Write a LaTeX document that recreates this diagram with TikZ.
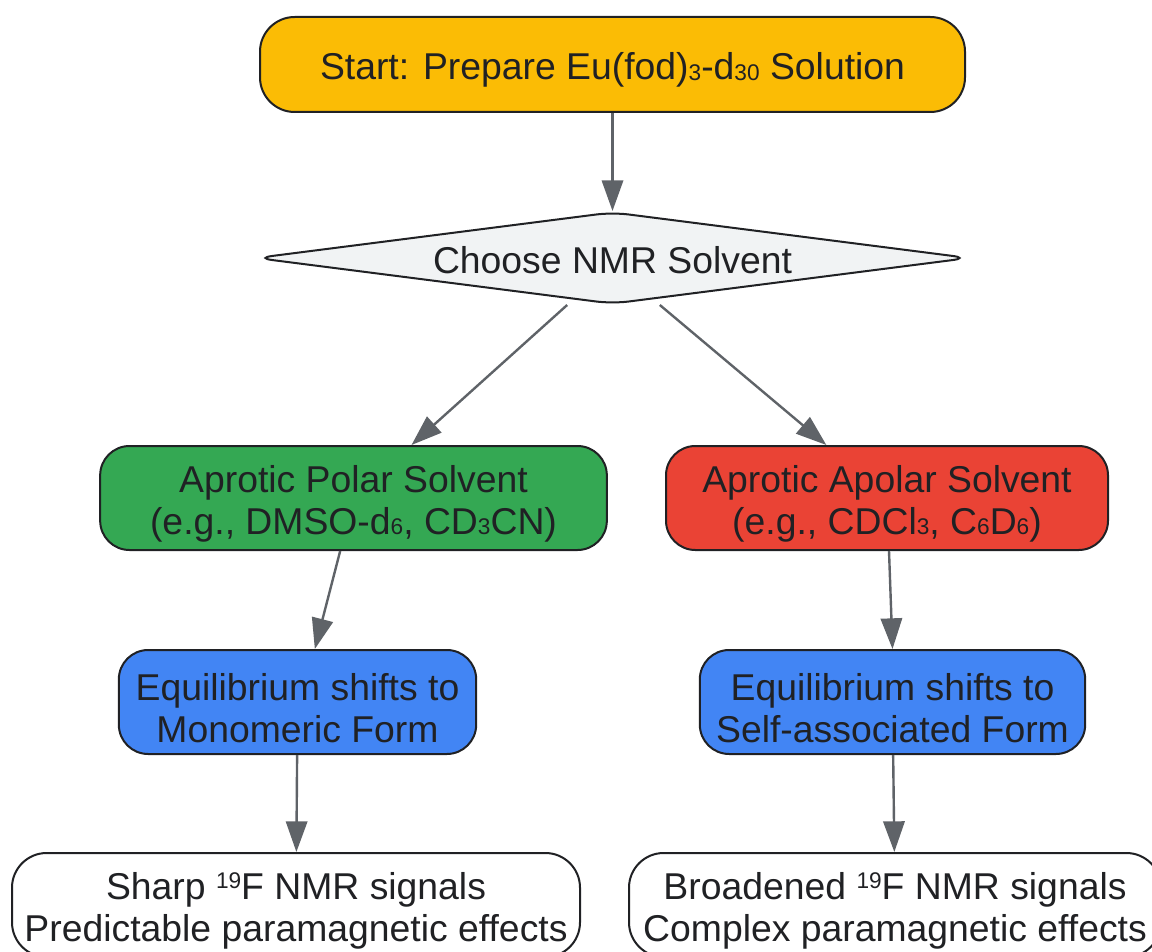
\documentclass[tikz,border=0pt]{standalone}
\usepackage{fontspec}
\setmainfont{Liberation Sans}
\usepackage{xcolor}
\usetikzlibrary{arrows.meta,shapes.geometric,positioning}

\definecolor{gyellow}{HTML}{FBBC05}
\definecolor{ggray}{HTML}{F1F3F4}
\definecolor{ggreen}{HTML}{34A853}
\definecolor{gred}{HTML}{EA4335}
\definecolor{gblue}{HTML}{4285F4}
\definecolor{arrowgray}{HTML}{5F6368}
\definecolor{darkline}{HTML}{202124}

\newcommand{\lsub}[1]{\raisebox{-0.3pt}{\fontsize{17}{17}\selectfont #1}}
\newcommand{\lsup}[1]{\raisebox{8pt}{\fontsize{17}{17}\selectfont #1}}
\newcommand{\topstrut}{\rule{0pt}{29pt}}

\begin{document}
\begin{tikzpicture}[x=0.75pt,y=-0.75pt,
                    arrowline/.style={draw=arrowgray,line width=1.8pt,-{Triangle[length=23pt,width=16pt]}},
                    main node/.style={rectangle,rounded corners=22pt,draw=darkline,line width=1.5pt,
                      align=center,inner sep=0pt,text=darkline,font=\fontsize{28}{31.5}\selectfont}]

 \useasboundingbox (0,0) rectangle (1152,952);

 \node[main node,fill=gyellow,rounded corners=26pt,minimum width=528.75pt,minimum height=71.25pt]
   (st) at (612.5,64.5) {\topstrut Start: Prepare Eu(fod)\lsub{3}-d\lsub{30} Solution};
 \node[main node,shape=diamond,fill=ggray,aspect=7.7,rounded corners=12pt,minimum width=535pt,minimum height=69pt]
   (ch) at (612.5,258) {\rule{0pt}{24pt}Choose NMR Solvent};

 \path
 (st) edge[arrowline] (ch);

 % left branch
 \node[main node,fill=ggreen,minimum width=380pt,minimum height=78pt]
   (pol) at (353.5,498) {\topstrut Aprotic Polar Solvent\\(e.g., DMSO-d\lsub{6}, CD\lsub{3}CN)};
 \node[main node,fill=gblue,minimum width=268pt,minimum height=78pt]
   (mono) at (297.5,702) {\topstrut Equilibrium shifts to\\Monomeric Form};
 \node[main node,fill=white,rounded corners=26pt,minimum width=426pt,minimum height=78pt]
   (sharp) at (296,905) {\topstrut Sharp \lsup{19}F NMR signals\\Predictable paramagnetic effects};

 \path
 ([xshift=-34pt]ch.south) edge[arrowline] ([xshift=43.5pt]pol.north)
 ([xshift=-10pt]pol.south) edge[arrowline] ([xshift=13pt]mono.north)
 (mono) edge[arrowline] (sharp);

 % right branch
 \node[main node,fill=gred,minimum width=331.5pt,minimum height=78pt]
   (apol) at (887,498) {\topstrut Aprotic Apolar Solvent\\(e.g., CDCl\lsub{3}, C\lsub{6}D\lsub{6})};
 \node[main node,fill=gblue,minimum width=289pt,minimum height=78pt]
   (self) at (892.5,702) {\topstrut Equilibrium shifts to\\Self-associated Form};
 \node[main node,fill=white,rounded corners=26pt,minimum width=399pt,minimum height=78pt]
   (broad) at (895,905) {\topstrut Broadened \lsup{19}F NMR signals\\Complex paramagnetic effects};

 \path
 ([xshift=35.5pt]ch.south) edge[arrowline] ([xshift=-45.5pt]apol.north)
 ([xshift=1.5pt]apol.south) edge[arrowline] (self.north)
 (self) edge[arrowline] (broad);

\end{tikzpicture}
\end{document}
